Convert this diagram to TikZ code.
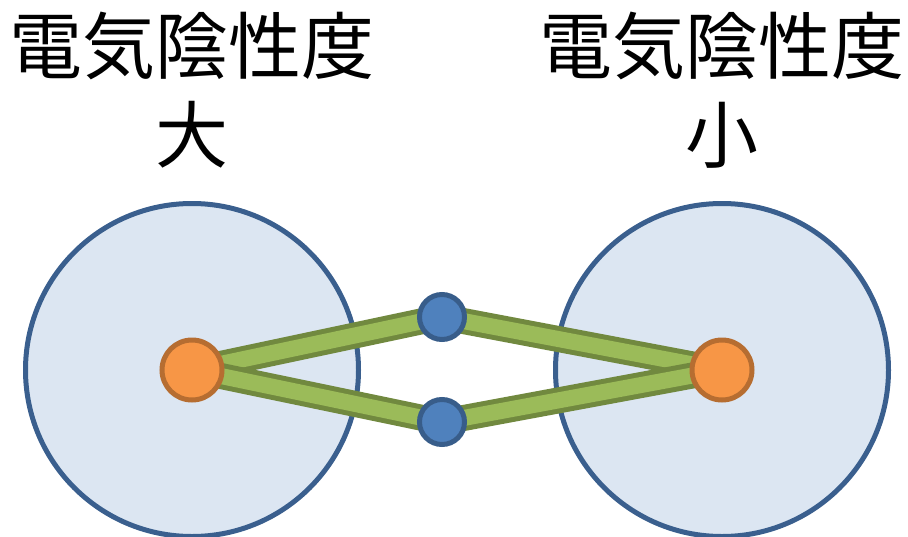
\documentclass[tikz,border=0pt]{standalone}
\usepackage{fontspec}
\newfontfamily\cjk{Noto Sans CJK JP}
\definecolor{shellfill}{HTML}{DCE6F2}
\definecolor{shellline}{HTML}{3A5F8E}
\definecolor{atomfill}{HTML}{F79646}
\definecolor{atomline}{HTML}{B66D31}
\definecolor{pairfill}{HTML}{4F81BD}
\definecolor{pairline}{HTML}{385D8A}
\definecolor{bondfill}{HTML}{9BBB59}
\definecolor{bondline}{HTML}{71893F}
\begin{document}
\begin{tikzpicture}[x=1pt,y=-1pt,
		shell/.style={circle,draw=shellline,fill=shellfill,line width=5pt,minimum size=333pt,inner sep=0pt},
		atom/.style={circle,draw=atomline,fill=atomfill,line width=5pt,minimum size=60pt,inner sep=0pt},
		pair/.style={circle,draw=pairline,fill=pairfill,line width=5pt,minimum size=45pt,inner sep=0pt},
		bond/.style={draw=bondline,line width=5pt,double=bondfill,double distance=16pt},
		label/.style={font=\cjk\fontsize{73}{80}\selectfont,inner sep=0pt}]
		\useasboundingbox (0,0) rectangle (908,536);
		\clip (0,0) rectangle (908,536);
		\node[shell] (shellL) at (192,370) {};
		\node[shell] (shellR) at (722,370) {};
		\node[label] (enL) at (192,46) {電気陰性度};
		\node[label] (sizeL) at (192,135) {大};
		\node[label] (enR) at (722,46) {電気陰性度};
		\node[label] (sizeR) at (722,135) {小};
		\coordinate (atomL) at (192,370);
		\coordinate (atomR) at (722,370);
		\coordinate (pairU) at (442,317);
		\coordinate (pairD) at (442,422);
		\draw[bond] (atomL) -- (pairU);
		\draw[bond] (atomL) -- (pairD);
		\draw[bond] (pairU) -- (atomR);
		\draw[bond] (pairD) -- (atomR);
		\node[atom] at (atomL) {};
		\node[atom] at (atomR) {};
		\node[pair] at (pairU) {};
		\node[pair] at (pairD) {};
	\end{tikzpicture}
\end{document}
